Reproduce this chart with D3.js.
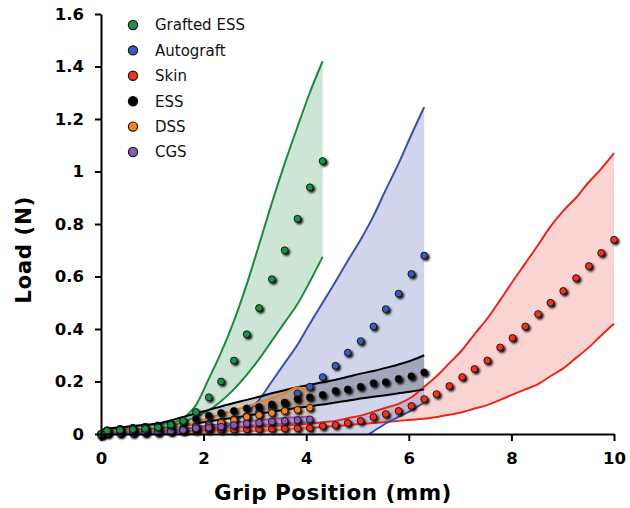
<!DOCTYPE html>
<html>
<head>
<meta charset="utf-8">
<script src="https://cdn.jsdelivr.net/npm/d3@7/dist/d3.min.js"></script>
<style>
  html, body { margin: 0; padding: 0; background: #fff; }
  svg { display: block; font-family: "DejaVu Sans", Verdana, sans-serif; }
</style>
</head>
<body>
<svg id="chart" width="630" height="508"></svg>
<script>
// ---- data ----
const positions = [0, 0.12, 0.37, 0.62, 0.86, 1.11, 1.36, 1.60, 1.85, 2.10, 2.34, 2.59, 2.84, 3.08, 3.33, 3.58, 3.83, 4.07, 4.32, 4.57, 4.81, 5.06, 5.31, 5.55, 5.80, 6.05, 6.30, 6.54, 6.79, 7.04, 7.28, 7.53, 7.78, 8.02, 8.27, 8.52, 8.76, 9.01, 9.26, 9.51, 9.75, 10.0];

const seriesNames = ["Grafted ESS", "Autograft", "Skin", "ESS", "DSS", "CGS"];
const xTicks = [0, 2, 4, 6, 8, 10];
const yTicks = [0, 0.2, 0.4, 0.6, 0.8, 1, 1.2, 1.4, 1.6];

const graftedMean  = [0, 0.012, 0.015, 0.018, 0.02, 0.025, 0.035, 0.05, 0.084, 0.14, 0.20, 0.28, 0.38, 0.48, 0.59, 0.70, 0.82, 0.94, 1.04];
const graftedUpper = [0.015, 0.02, 0.025, 0.03, 0.033, 0.036, 0.042, 0.06, 0.11, 0.21, 0.31, 0.43, 0.57, 0.72, 0.88, 1.03, 1.17, 1.30, 1.42];
const graftedLower = [0.01, 0.012, 0.014, 0.016, 0.018, 0.022, 0.03, 0.045, 0.065, 0.09, 0.125, 0.17, 0.225, 0.285, 0.355, 0.425, 0.495, 0.58, 0.675];

const autoMean  = [0, 0.005, 0.007, 0.009, 0.011, 0.014, 0.018, 0.023, 0.03, 0.038, 0.047, 0.057, 0.068, 0.082, 0.10, 0.118, 0.155, 0.18, 0.217, 0.26, 0.31, 0.354, 0.41, 0.476, 0.535, 0.61, 0.68];
const autoUpper = [0, 0.005, 0.006, 0.007, 0.008, 0.009, 0.01, 0.011, 0.012, 0.015, 0.02, 0.045, 0.08, 0.13, 0.20, 0.27, 0.34, 0.42, 0.50, 0.58, 0.66, 0.74, 0.83, 0.93, 1.03, 1.14, 1.245];
const autoLower = [0, 0, 0, 0, 0, 0, 0, 0, 0, -0.005, -0.01, -0.015, -0.02, -0.03, -0.04, -0.05, -0.05, -0.06, -0.065, -0.06, -0.045, -0.02, 0.01, 0.04, 0.065, 0.09, 0.12];

const skinMean  = [0, 0.012, 0.012, 0.012, 0.013, 0.013, 0.014, 0.014, 0.015, 0.016, 0.016, 0.017, 0.018, 0.019, 0.02, 0.021, 0.022, 0.023, 0.03, 0.034, 0.042, 0.05, 0.065, 0.076, 0.088, 0.107, 0.133, 0.152, 0.183, 0.217, 0.248, 0.28, 0.33, 0.366, 0.41, 0.457, 0.50, 0.545, 0.594, 0.64, 0.69, 0.74];
const skinUpper = [0.01, 0.015, 0.017, 0.018, 0.019, 0.02, 0.021, 0.022, 0.023, 0.024, 0.025, 0.026, 0.027, 0.028, 0.03, 0.033, 0.036, 0.04, 0.045, 0.05, 0.06, 0.07, 0.085, 0.10, 0.115, 0.14, 0.18, 0.22, 0.27, 0.32, 0.38, 0.44, 0.51, 0.58, 0.65, 0.72, 0.79, 0.85, 0.90, 0.96, 1.01, 1.07];
const skinLower = [0, 0.008, 0.008, 0.009, 0.009, 0.01, 0.01, 0.01, 0.01, 0.01, 0.011, 0.011, 0.011, 0.012, 0.014, 0.017, 0.02, 0.023, 0.027, 0.03, 0.034, 0.038, 0.042, 0.046, 0.05, 0.054, 0.058, 0.065, 0.073, 0.083, 0.097, 0.11, 0.13, 0.15, 0.17, 0.19, 0.22, 0.25, 0.29, 0.33, 0.375, 0.42];

const essMean  = [0, 0.015, 0.02, 0.024, 0.028, 0.033, 0.04, 0.048, 0.058, 0.07, 0.08, 0.088, 0.098, 0.103, 0.113, 0.12, 0.133, 0.14, 0.149, 0.164, 0.17, 0.18, 0.194, 0.198, 0.21, 0.22, 0.235];
const essUpper = [0.015, 0.02, 0.025, 0.03, 0.035, 0.04, 0.052, 0.065, 0.078, 0.092, 0.105, 0.118, 0.13, 0.142, 0.155, 0.167, 0.178, 0.188, 0.197, 0.207, 0.218, 0.23, 0.24, 0.252, 0.265, 0.28, 0.30];
const essLower = [0.005, 0.008, 0.01, 0.012, 0.014, 0.017, 0.022, 0.03, 0.04, 0.048, 0.055, 0.062, 0.07, 0.077, 0.085, 0.092, 0.10, 0.105, 0.112, 0.12, 0.127, 0.135, 0.142, 0.148, 0.155, 0.162, 0.17];

const dssMean  = [0, 0.005, 0.006, 0.007, 0.008, 0.01, 0.012, 0.015, 0.02, 0.03, 0.042, 0.053, 0.065, 0.072, 0.08, 0.088, 0.092, 0.10];
const dssUpper = [0.008, 0.01, 0.011, 0.012, 0.013, 0.015, 0.02, 0.03, 0.045, 0.06, 0.075, 0.09, 0.105, 0.12, 0.135, 0.155, 0.177, 0.163];
const dssLower = [0, 0.002, 0.002, 0.003, 0.003, 0.004, 0.005, 0.006, 0.007, 0.008, 0.009, 0.01, 0.012, 0.013, 0.015, 0.017, 0.019, 0.022];

const cgsMean  = [0, 0.003, 0.004, 0.004, 0.005, 0.006, 0.01, 0.015, 0.022, 0.024, 0.028, 0.034, 0.04, 0.043, 0.047, 0.05, 0.053, 0.056];
const cgsUpper = [0.004, 0.006, 0.007, 0.007, 0.008, 0.01, 0.015, 0.02, 0.028, 0.032, 0.037, 0.043, 0.049, 0.053, 0.057, 0.061, 0.064, 0.066];
const cgsLower = [0, 0, 0.001, 0.001, 0.002, 0.003, 0.005, 0.009, 0.014, 0.016, 0.02, 0.025, 0.03, 0.033, 0.036, 0.039, 0.042, 0.045];

const lineColors = ["#1b8a3e", "#3a4fae", "#e8261c", "#000000", "#f07f1e", "#8a55b0"];
const dotColors  = ["#1d8f45", "#3d58b8", "#ee3224", "#000000", "#f5841f", "#8e5ab5"];
const fillColors = ["#1b8a3e", "#3a4fae", "#e8261c", "#000000", "#f07f1e", "#8a55b0"];
const fillOpacity = [0.22, 0.24, 0.2, 0.22, 0.25, 0.3];

// ---- build ----
const means  = [graftedMean, autoMean, skinMean, essMean, dssMean, cgsMean];
const uppers = [graftedUpper, autoUpper, skinUpper, essUpper, dssUpper, cgsUpper];
const lowers = [graftedLower, autoLower, skinLower, essLower, dssLower, cgsLower];

const series = seriesNames.map((name, k) => ({
  name, k,
  points: means[k].map((v, i) => ({ x: positions[i], y: v, hi: uppers[k][i], lo: lowers[k][i] }))
}));

const svg = d3.select("#chart");
const x = d3.scaleLinear().domain([0, 10]).range([101, 614]);
const y = d3.scaleLinear().domain([0, 1.6]).range([434, 14]);

const defs = svg.append("defs");
defs.append("clipPath").attr("id", "plotclip")
  .append("rect").attr("x", 101).attr("y", 0).attr("width", 530).attr("height", 434);
const f = defs.append("filter").attr("id", "shadow")
  .attr("x", "-50%").attr("y", "-50%").attr("width", "200%").attr("height", "200%");
f.append("feDropShadow").attr("dx", 1.8).attr("dy", 1.8).attr("stdDeviation", 0.9)
  .attr("flood-color", "#000").attr("flood-opacity", 0.95);

const plot = svg.append("g").attr("clip-path", "url(#plotclip)");

const area = d3.area().x(d => x(d.x)).y0(d => y(d.lo)).y1(d => y(d.hi)).curve(d3.curveMonotoneX);
const lineHi = d3.line().x(d => x(d.x)).y(d => y(d.hi)).curve(d3.curveMonotoneX);
const lineLo = d3.line().x(d => x(d.x)).y(d => y(d.lo)).curve(d3.curveMonotoneX);

const drawOrder = [2, 1, 0, 3, 4, 5];
drawOrder.forEach(k => {
  const s = series[k];
  plot.append("path").datum(s.points).attr("d", area)
    .attr("fill", fillColors[k]).attr("fill-opacity", fillOpacity[k]).attr("stroke", "none");
});
drawOrder.forEach(k => {
  const s = series[k];
  [lineHi, lineLo].forEach(gen => {
    plot.append("path").datum(s.points).attr("d", gen)
      .attr("fill", "none").attr("stroke", lineColors[k]).attr("stroke-width", 2)
      .attr("stroke-linejoin", "round");
  });
});

const dotOrder = [2, 1, 3, 4, 5, 0];
const dotsG = svg.append("g");
dotOrder.forEach(k => {
  const s = series[k];
  dotsG.append("g").attr("filter", "url(#shadow)")
    .selectAll("circle").data(s.points).join("circle")
    .attr("cx", d => x(d.x)).attr("cy", d => y(d.y)).attr("r", 3.4)
    .attr("fill", dotColors[k]).attr("stroke", "#111").attr("stroke-width", 0.9);
});

// axes
const xAxis = d3.axisBottom(x).tickValues(xTicks).tickSize(7).tickSizeOuter(0).tickFormat(d3.format("d"));
const yAxis = d3.axisLeft(y).tickValues(yTicks).tickSize(6).tickSizeOuter(0).tickFormat(d => d === 0 ? "0" : (d === 1 ? "1" : d3.format(".1f")(d)));

const gx = svg.append("g").attr("transform", "translate(0,434)").call(xAxis);
const gy = svg.append("g").attr("transform", "translate(101,0)").call(yAxis);
[gx, gy].forEach(g => {
  g.select(".domain").attr("stroke", "#000").attr("stroke-width", 2);
  g.selectAll(".tick line").attr("stroke", "#000").attr("stroke-width", 2);
  g.selectAll(".tick text").attr("fill", "#000").attr("font-size", 16.5).attr("font-weight", "bold")
    .attr("font-family", "DejaVu Sans, Verdana, sans-serif");
});
gx.selectAll(".tick text").attr("y", 18);
gy.selectAll(".tick text").attr("x", -17);

svg.append("text").attr("x", 333).attr("y", 500).attr("text-anchor", "middle")
  .attr("font-size", 21.5).attr("font-weight", "bold").attr("letter-spacing", 0.5).text("Grip Position (mm)");
svg.append("text").attr("transform", "translate(31,250) rotate(-90)").attr("text-anchor", "middle")
  .attr("font-size", 21.5).attr("font-weight", "bold").attr("letter-spacing", 0.5).text("Load (N)");

// legend
const legend = svg.append("g");
seriesNames.forEach((name, k) => {
  const ly = 25 + k * 25.4;
  legend.append("circle").attr("cx", 133).attr("cy", ly).attr("r", 4.6)
    .attr("fill", dotColors[k]).attr("stroke", "#111").attr("stroke-width", 1.2);
  legend.append("text").attr("x", 155).attr("y", ly).attr("dy", "0.36em")
    .attr("font-size", 15).attr("fill", "#111").text(name);
});
</script>
</body>
</html>
